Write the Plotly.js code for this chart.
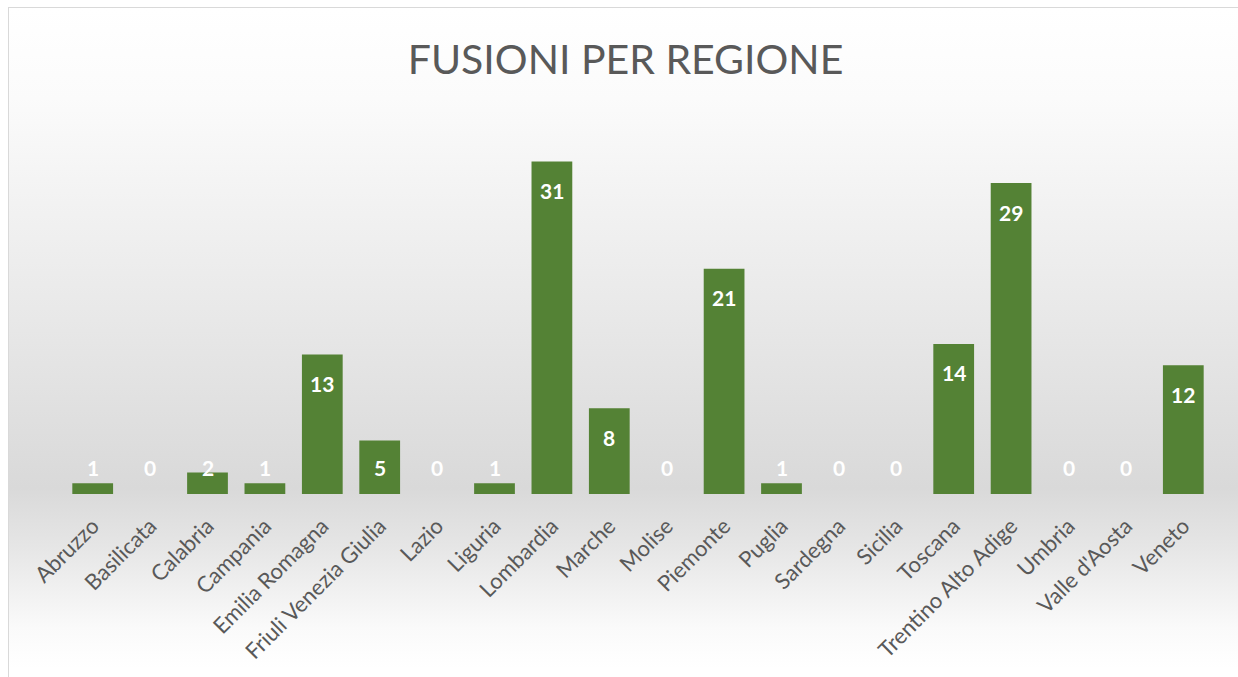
<!DOCTYPE html>
<html>
<head>
<meta charset="utf-8">
<script src="https://cdn.plot.ly/plotly-3.0.1.min.js"></script>
<style>
  html, body { margin: 0; padding: 0; background: #ffffff; }
  #wrap { position: relative; width: 1238px; height: 677px; overflow: hidden; background: #ffffff; }
  #frame { position: absolute; left: 8px; top: 7px; width: 1240px; height: 690px;
    border: 1.5px solid #d9d9d9; box-sizing: border-box;
    background: linear-gradient(to bottom, #ffffff 0px, #fbfbfb 90px, #e9e9e9 300px, #d9d9d9 480px, #e6e6e6 540px, #fafafa 620px, #ffffff 660px); }
  #chart { position: absolute; left: 0; top: 0; width: 1238px; height: 677px; }
</style>
</head>
<body>
<div id="wrap">
  <div id="frame"></div>
  <div id="chart"></div>
</div>
<script>
const regions = ["Abruzzo", "Basilicata", "Calabria", "Campania", "Emilia Romagna",
  "Friuli Venezia Giulia", "Lazio", "Liguria", "Lombardia", "Marche", "Molise",
  "Piemonte", "Puglia", "Sardegna", "Sicilia", "Toscana", "Trentino Alto Adige",
  "Umbria", "Valle d'Aosta", "Veneto"];
const fusioni = [1, 0, 2, 1, 13, 5, 0, 1, 31, 8, 0, 21, 1, 0, 0, 14, 29, 0, 0, 12];
const chartTitle = "FUSIONI PER REGIONE";

const trace = {
  type: "bar",
  x: regions,
  y: fusioni,
  marker: { color: "#548235" },
  hoverinfo: "x+y"
};

// data labels: inside end of bar, kept above a minimum height for short bars
const labelFloor = 5.2;
const annotations = regions.map((r, i) => ({
  x: r,
  y: Math.max(fusioni[i], labelFloor),
  xref: "x", yref: "y",
  text: "<b>" + fusioni[i] + "</b>",
  showarrow: false,
  yanchor: "middle",
  yshift: -29,
  font: { family: "Lato, 'Open Sans', sans-serif", size: 21, color: "#ffffff" }
}));

const layout = {
  width: 1238, height: 677,
  paper_bgcolor: "rgba(0,0,0,0)",
  plot_bgcolor: "rgba(0,0,0,0)",
  margin: { l: 64, r: 26, t: 108, b: 183 },
  bargap: 0.29,
  showlegend: false,
  title: {
    text: chartTitle,
    xref: "container", yref: "container",
    x: 0.5053, y: 0.912, xanchor: "center", yanchor: "middle",
    font: { family: "Lato, 'Open Sans', sans-serif", size: 41, color: "#595959" }
  },
  xaxis: {
    type: "category",
    tickangle: -45,
    ticklabelstandoff: 14,
    showline: false, showgrid: false, zeroline: false, ticks: "",
    tickfont: { family: "Lato, 'Open Sans', sans-serif", size: 22, color: "#595959" }
  },
  yaxis: {
    range: [0, 36],
    visible: false, showgrid: false, zeroline: false
  },
  annotations: annotations
};

Plotly.newPlot("chart", [trace], layout, { displayModeBar: false, staticPlot: true });
</script>
</body>
</html>
